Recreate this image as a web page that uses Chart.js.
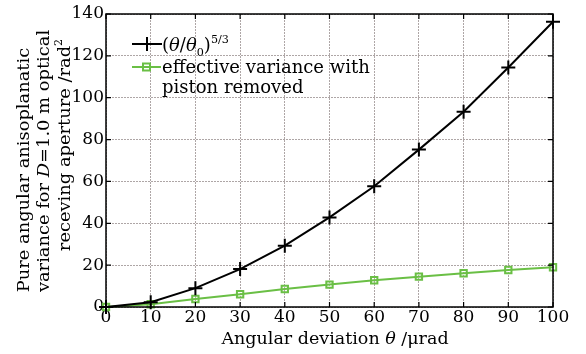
<!DOCTYPE html>
<html><head><meta charset="utf-8">
<script src="https://cdn.jsdelivr.net/npm/chart.js@4/dist/chart.umd.min.js"></script>
<style>html,body{margin:0;padding:0;background:#fff}#wrap{width:586px;height:354px}</style>
</head><body><div id="wrap"><canvas id="c" width="586" height="354"></canvas></div>
<script>
const deviation = [0,10,20,30,40,50,60,70,80,90,100];
const powerLaw = [0,2.3,9.0,18.1,29.3,42.8,57.7,75.2,93.3,114.4,136.3];
const pistonRemoved = [0,1.3,3.8,6.1,8.6,10.7,12.8,14.5,16.1,17.7,19.0];
const xTicks = [0,10,20,30,40,50,60,70,80,90,100];
const yTicks = [0,20,40,60,80,100,120,140];
const legendLabels = ['(θ/θ0)5/3','effective variance with piston removed'];
const xTitle = 'Angular deviation θ /μrad';
const yTitleLines = ['Pure angular anisoplanatic','variance for D=1.0 m optical','receving aperture /rad2'];

const FONT = '"DejaVu Serif", serif';
const GREEN = '#6abf45';

function segW(ctx, segs, size){
  let w=0;
  for(const s of segs){
    const sz = (s.sup||s.sub)? size*0.62 : size;
    ctx.font = (s.it?'italic ':'') + sz+'px '+FONT;
    w += ctx.measureText(s.t).width;
  }
  return w;
}
function drawSegs(ctx, segs, x, y, size){
  for(const s of segs){
    const sz = (s.sup||s.sub)? size*0.62 : size;
    ctx.font = (s.it?'italic ':'') + sz+'px '+FONT;
    let dy = s.sup ? -size*0.45 : (s.sub ? size*0.25 : 0);
    ctx.fillText(s.t, x, y+dy);
    x += ctx.measureText(s.t).width;
  }
}

const decor = {
  id:'decor',
  afterDraw(chart){
    const ctx = chart.ctx, a = chart.chartArea;
    const xs = chart.scales.x, ys = chart.scales.y;
    ctx.save();
    ctx.strokeStyle='#000'; ctx.lineWidth=1.5;
    ctx.strokeRect(a.left, a.top, a.right-a.left, a.bottom-a.top);
    ctx.lineWidth=1.2;
    ctx.beginPath();
    for(const v of xTicks){
      const px = xs.getPixelForValue(v);
      ctx.moveTo(px,a.bottom); ctx.lineTo(px,a.bottom-5);
      ctx.moveTo(px,a.top); ctx.lineTo(px,a.top+5);
    }
    for(const v of yTicks){
      const py = ys.getPixelForValue(v);
      ctx.moveTo(a.left,py); ctx.lineTo(a.left+5,py);
      ctx.moveTo(a.right,py); ctx.lineTo(a.right-5,py);
    }
    ctx.stroke();
    ctx.fillStyle='#000';
    ctx.textBaseline='alphabetic'; ctx.textAlign='left';
    ctx.strokeStyle='#000'; ctx.lineWidth=2;
    ctx.beginPath(); ctx.moveTo(132,44); ctx.lineTo(162,44); ctx.stroke();
    ctx.beginPath(); ctx.moveTo(147,37); ctx.lineTo(147,51); ctx.moveTo(140,44); ctx.lineTo(154,44); ctx.stroke();
    drawSegs(ctx,[{t:'('},{t:'θ',it:true},{t:'/'},{t:'θ',it:true},{t:'0',sub:true},{t:')'},{t:'5/3',sup:true}],162,51,18);
    ctx.strokeStyle=GREEN; ctx.lineWidth=2;
    ctx.beginPath(); ctx.moveTo(132,67); ctx.lineTo(161,67); ctx.stroke();
    ctx.strokeRect(143,63.5,7,7);
    ctx.fillStyle='#000';
    ctx.font='18px '+FONT;
    ctx.fillText('effective variance with',162,73);
    ctx.fillText('piston removed',162,93);
    const xt=[{t:'Angular deviation '},{t:'θ',it:true},{t:' /μrad'}];
    const xw=segW(ctx,xt,17.5);
    drawSegs(ctx,xt,335-xw/2,344,17.5);
    const lines=[
      [{t:'Pure angular anisoplanatic'}],
      [{t:'variance for '},{t:'D',it:true},{t:'=1.0 m optical'}],
      [{t:'receving aperture /rad'},{t:'2',sup:true}]
    ];
    const cx=[29,49,70], cy=[170,161,145];
    lines.forEach((ln,i)=>{
      ctx.save();
      ctx.translate(cx[i],cy[i]); ctx.rotate(-Math.PI/2); ctx.scale(1.02,1);
      const w=segW(ctx,ln,17.5);
      drawSegs(ctx,ln,-w/2,0,17.5);
      ctx.restore();
    });
    ctx.restore();
  }
};

new Chart(document.getElementById('c'),{
  type:'line',
  data:{datasets:[
    {label:legendLabels[0],data:deviation.map((x,i)=>({x,y:powerLaw[i]})),borderColor:'#000',backgroundColor:'#000',borderWidth:2,
     pointStyle:'cross',pointRadius:7,pointBorderWidth:2,tension:0,clip:false},
    {label:legendLabels[1],data:deviation.map((x,i)=>({x,y:pistonRemoved[i]})),borderColor:GREEN,backgroundColor:'rgba(0,0,0,0)',borderWidth:2,
     pointStyle:'rect',pointRadius:4.5,pointBorderWidth:2,tension:0,clip:false}
  ]},
  options:{
    responsive:false,animation:false,
    layout:{padding:{top:14,right:33,left:0,bottom:0}},
    plugins:{legend:{display:false},tooltip:{enabled:false}},
    scales:{
      x:{type:'linear',min:0,max:100,
        afterBuildTicks:s=>{s.ticks=xTicks.map(v=>({value:v}));},
        afterFit:s=>{s.height=47;},
        ticks:{font:{family:FONT,size:17},color:'#000',padding:0,maxRotation:0},
        grid:{color:'rgba(160,150,150,0.85)',lineWidth:1,drawTicks:false},
        border:{display:false,dash:[2,1]}},
      y:{type:'linear',min:0,max:140,
        afterBuildTicks:s=>{s.ticks=yTicks.map(v=>({value:v}));},
        afterFit:s=>{s.width=106;},
        ticks:{font:{family:FONT,size:17},color:'#000',padding:2},
        grid:{color:'rgba(160,150,150,0.85)',lineWidth:1,drawTicks:false},
        border:{display:false,dash:[2,1]}}
    }
  },
  plugins:[decor]
});
</script></body></html>
